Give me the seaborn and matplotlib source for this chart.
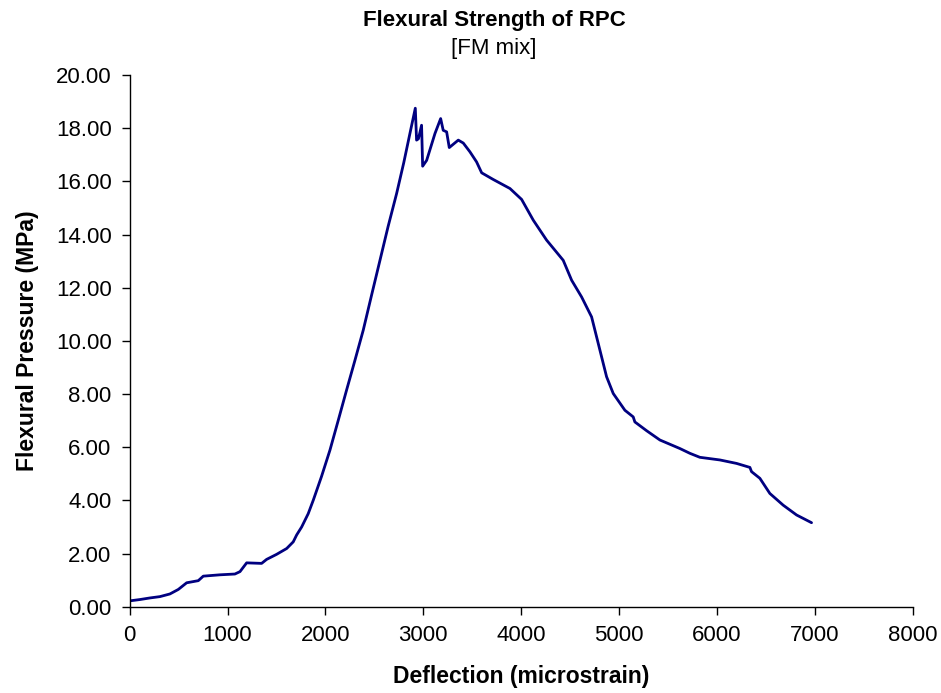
import matplotlib
matplotlib.use("Agg")
import matplotlib.pyplot as plt
import seaborn as sns
import pandas as pd

# Load-deflection record of the FM-mix RPC beam
deflection = [0, 105, 207, 309, 411, 497, 582, 701, 752, 922, 1075, 1127, 1195,
              1348, 1399, 1501, 1604, 1671, 1706, 1757, 1824, 1876, 1960, 2046,
              2130, 2216, 2300, 2386, 2470, 2557, 2640, 2727, 2800, 2863, 2918,
              2931, 2950, 2982, 2993, 3034, 3119, 3177, 3203, 3238, 3265, 3357,
              3408, 3476, 3544, 3596, 3714, 3885, 4004, 4123, 4259, 4429, 4515,
              4617, 4719, 4804, 4872, 4940, 5059, 5144, 5161, 5281, 5417, 5621,
              5723, 5825, 6030, 6200, 6336, 6353, 6438, 6540, 6676, 6813, 6966]
pressure = [0.22, 0.27, 0.33, 0.38, 0.48, 0.65, 0.90, 0.98, 1.15, 1.20, 1.23,
            1.32, 1.65, 1.63, 1.78, 1.97, 2.19, 2.44, 2.70, 3.00, 3.50, 4.01,
            4.90, 5.89, 7.00, 8.15, 9.25, 10.40, 11.70, 13.03, 14.30, 15.54,
            16.70, 17.80, 18.75, 17.55, 17.60, 18.11, 16.57, 16.79, 17.80,
            18.36, 17.92, 17.86, 17.27, 17.55, 17.44, 17.11, 16.73, 16.32,
            16.07, 15.73, 15.32, 14.54, 13.79, 13.03, 12.28, 11.65, 10.90, 9.65,
            8.65, 8.02, 7.39, 7.14, 6.95, 6.62, 6.27, 5.95, 5.77, 5.62, 5.52,
            5.39, 5.24, 5.08, 4.83, 4.26, 3.82, 3.45, 3.16]

x_ticks = [0, 1000, 2000, 3000, 4000, 5000, 6000, 7000, 8000]
y_ticks = [0, 2, 4, 6, 8, 10, 12, 14, 16, 18, 20]

sns.set_style("ticks")
plt.rcParams["font.family"] = ["Liberation Sans", "DejaVu Sans"]
plt.rcParams["text.color"] = "black"
plt.rcParams["axes.labelcolor"] = "black"

df = pd.DataFrame({"Deflection": deflection, "Pressure": pressure})

fig = plt.figure(figsize=(9.41, 6.93), dpi=100)
ax = fig.add_axes([0.1378, 0.1245, 0.8322, 0.7673])

sns.lineplot(data=df, x="Deflection", y="Pressure", sort=False,
             color="#000080", linewidth=2.0, ax=ax)

ax.set_xlim(0, 8000)
ax.set_ylim(0, 20)
ax.set_xticks(x_ticks)
ax.set_yticks(y_ticks)
ax.set_xticklabels([str(t) for t in x_ticks])
ax.set_yticklabels([f"{t:.2f}" for t in y_ticks])
ax.tick_params(axis="both", direction="out", length=6, width=1,
               color="black", labelsize=16, labelcolor="black", pad=7)
for side in ("left", "bottom"):
    ax.spines[side].set_color("black")
    ax.spines[side].set_linewidth(1)
sns.despine(ax=ax)

ax.set_xlabel("Deflection (microstrain)", fontsize=16.5, fontweight="bold",
              labelpad=14)
ax.set_ylabel("Flexural Pressure (MPa)", fontsize=16.5, fontweight="bold",
              labelpad=12)

fig.text(0.525, 0.970, "Flexural Strength of RPC", ha="center", va="center",
         fontsize=16, fontweight="bold")
fig.text(0.525, 0.930, "[FM mix]", ha="center", va="center", fontsize=16)

fig.savefig("out.png", dpi=100, facecolor="white")
